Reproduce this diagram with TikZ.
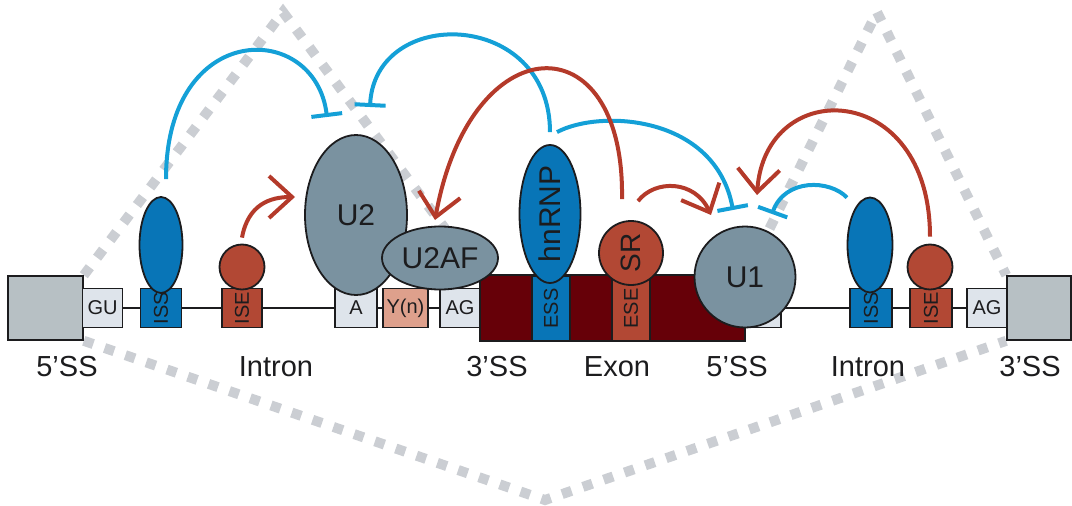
\documentclass[tikz,border=0pt]{standalone}
\usepackage{fontspec}
\setmainfont{Liberation Sans}
\usepackage{tikz}
\usetikzlibrary{shapes.geometric}
\usetikzlibrary{arrows.meta}
\definecolor{outl}{RGB}{28,28,30}
\definecolor{biggrey}{RGB}{183,192,196}
\definecolor{boxgrey}{RGB}{222,228,235}
\definecolor{protblue}{RGB}{8,117,183}
\definecolor{arcblue}{RGB}{20,160,215}
\definecolor{protred}{RGB}{178,72,52}
\definecolor{arrowred}{RGB}{180,58,42}
\definecolor{snrgrey}{RGB}{122,146,160}
\definecolor{exonred}{RGB}{102,0,8}
\definecolor{polyy}{RGB}{222,160,140}
\definecolor{dotgrey}{RGB}{203,206,211}
\pgfdeclarelayer{bg}
\pgfsetlayers{bg,main}

\begin{document}
\begin{tikzpicture}[
x=1pt, y=1pt,
BigBox/.style={draw=outl,line width=1.6pt,fill=biggrey,minimum width=75pt,minimum height=64pt,inner sep=0pt},
SmallBox/.style={draw=outl,line width=1.6pt,fill=boxgrey,minimum width=40pt,minimum height=39pt,inner sep=0pt,text=outl,font=\fontsize{20}{22}\selectfont},
Protein/.style={draw=outl,line width=1.8pt,inner sep=0pt,text=outl,font=\fontsize{30}{32}\selectfont},
Inhibit/.style={draw=arcblue,line width=4pt,-{Bar[width=31pt]}},
Activate/.style={draw=arrowred,line width=4pt,-{Straight Barb[length=23pt,width=42pt]}},
Splice/.style={draw=dotgrey,line width=10pt,dash pattern=on 10pt off 12pt},
Label/.style={text=outl,font=\fontsize{29}{32}\selectfont}
]
\useasboundingbox (0,0) rectangle (1072,-506);

% splice sites and strand ends
\node[BigBox] (ex5) at (45.5,-308) {};
\node[BigBox,minimum width=64pt] (ex3) at (1039,-308) {};
\node[SmallBox] (gu) at (102.5,-308) {GU};
\node[SmallBox,fill=protblue,minimum width=41pt] (issL) at (161,-308) {\rotatebox{90}{ISS}};
\node[SmallBox,fill=protred] (iseL) at (242,-308) {\rotatebox{90}{ISE}};
\node[SmallBox,minimum width=42pt] (bp) at (356,-308) {A};
\node[SmallBox,fill=polyy,minimum width=45pt] (yn) at (405.5,-308) {Y(n)};
\node[SmallBox] (agL) at (460,-308) {AG};
\node[SmallBox] (gu5R) at (761,-308) {};
\node[SmallBox,fill=protblue,minimum width=42pt] (issR) at (871,-308) {\rotatebox{90}{ISS}};
\node[SmallBox,fill=protred,minimum width=42pt] (iseR) at (931,-308) {\rotatebox{90}{ISE}};
\node[SmallBox] (agR) at (987,-308) {AG};

% exon
\node[draw=outl,line width=1.6pt,fill=exonred,minimum width=265pt,minimum height=66pt,inner sep=0pt] (exon) at (612.5,-308) {};
\node[SmallBox,fill=protblue,minimum width=38pt,minimum height=65pt] (ess) at (551,-308.5) {\rotatebox{90}{ESS}};
\node[SmallBox,fill=protred,minimum width=38pt,minimum height=65pt] (ese) at (631,-308.5) {\rotatebox{90}{ESE}};

% bound factors
\node[Protein,ellipse,fill=protblue,minimum width=43pt,minimum height=96pt] (issLp) at (161,-245) {};
\node[Protein,circle,fill=protred,minimum size=45pt] (iseLp) at (242,-267) {};
\node[Protein,ellipse,fill=snrgrey,minimum width=102pt,minimum height=160pt] (u2) at (356,-215) {U2};
\node[Protein,ellipse,fill=snrgrey,minimum width=116pt,minimum height=63pt] (u2af) at (440,-258) {U2AF};
\node[Protein,ellipse,fill=protblue,minimum width=61pt,minimum height=138pt] (hnrnp) at (550,-214) {\rotatebox{90}{hnRNP}};
\node[Protein,circle,fill=protred,minimum size=64pt,font=\fontsize{28}{30}\selectfont] (sr) at (631,-253) {\rotatebox{90}{SR}};
\node[Protein,circle,fill=snrgrey,minimum size=101pt] (u1) at (745,-277) {U1};
\node[Protein,ellipse,fill=protblue,minimum width=45pt,minimum height=95pt] (issRp) at (870,-245) {};
\node[Protein,circle,fill=protred,minimum size=45pt] (iseRp) at (930,-267) {};

% labels
\node[Label] (l5L) at (67,-367) {5’SS};
\node[Label] (inL) at (276,-367) {Intron};
\node[Label] (l3L) at (497,-367) {3’SS};
\node[Label] (exl) at (617,-367) {Exon};
\node[Label] (l5R) at (737,-367) {5’SS};
\node[Label] (inR) at (868,-367) {Intron};
\node[Label] (l3R) at (1030,-367) {3’SS};

% targets of the regulators
\coordinate (apexL) at (283,-12);
\coordinate (apexR) at (877,-12);
\coordinate (skip) at (545,-500);
\coordinate (u2barL) at (327,-117);
\coordinate (u2barR) at (370,-107);
\coordinate (u1barL) at (733,-210);
\coordinate (u1barR) at (772,-214);
\coordinate (u2tip) at (295,-197);
\coordinate (u2aftip) at (435,-220);
\coordinate (u1tipL) at (711,-215);
\coordinate (u1tipR) at (757,-195);

\begin{pgfonlayer}{bg}
\draw[Splice] (ex5.north east) -- (apexL) -- (exon.north west);
\draw[Splice] (gu5R.north west) -- (apexR) -- (ex3.north west);
\draw[Splice] (ex5.south east) -- (skip) -- (ex3.south west);
\draw[outl,line width=1.6pt] (ex5.east) -- (ex3.west);
\end{pgfonlayer}

% silencers
\draw[Inhibit] ([shift={(5,17)}]issLp.north) .. controls +(0,160) and +(-12,97) .. (u2barL);
\draw[Inhibit] ([yshift=12pt]hnrnp.north) .. controls +(0,123) and +(5,102) .. (u2barR);
\draw[Inhibit] ([shift={(7,12)}]hnrnp.north) .. controls +(43,23) and +(-18,95) .. (u1barL);
\draw[Inhibit] ([shift={(-23,-1)}]issRp.north) .. controls +(-17,18) and +(13,36) .. (u1barR);

% enhancers
\draw[Activate] ([yshift=6pt]iseLp.north) .. controls +(6,33) and +(-25,0) .. (u2tip);
\draw[Activate] ([shift={(-9,21)}]sr.north) .. controls +(3,180) and +(35,195) .. (u2aftip);
\draw[Activate] ([shift={(7,19)}]sr.north) .. controls +(17,22) and +(-16,35) .. (u1tipL);
\draw[Activate] ([yshift=7pt]iseRp.north) .. controls +(0,157) and +(8,120) .. (u1tipR);

\end{tikzpicture}
\end{document}
